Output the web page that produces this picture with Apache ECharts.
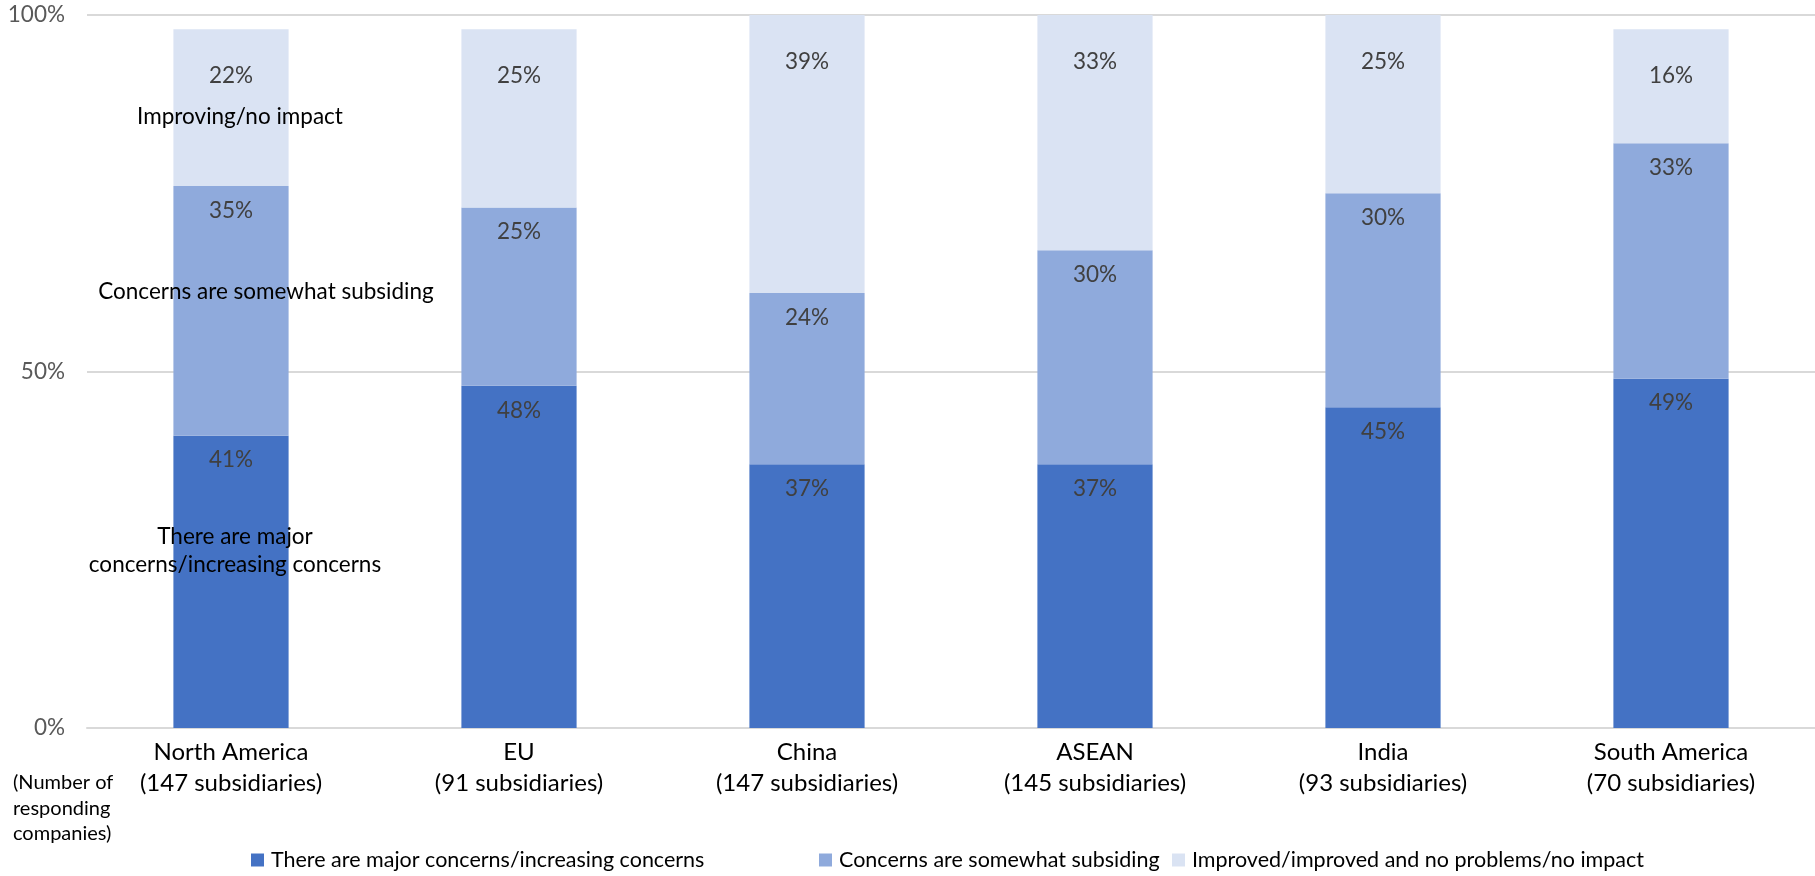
<!DOCTYPE html>
<html>
<head>
<meta charset="utf-8">
<script src="https://cdn.jsdelivr.net/npm/echarts@6/dist/echarts.min.js"></script>
<style>
  html, body { margin: 0; padding: 0; background: #fff; }
  #chart { width: 1815px; height: 876px; }
</style>
</head>
<body>
<div id="chart"></div>
<script>
// Regions and number of responding subsidiaries
const regions = ['North America', 'EU', 'China', 'ASEAN', 'India', 'South America'];
const respondents = [147, 91, 147, 145, 93, 70];

// Share of responses (%) per region
const majorConcerns = [41, 48, 37, 37, 45, 49];
const somewhatSubsiding = [35, 25, 24, 30, 30, 33];
const improvedNoImpact = [22, 25, 39, 33, 25, 16];

const seriesNames = [
  'There are major concerns/increasing concerns',
  'Concerns are somewhat subsiding',
  'Improved/improved and no problems/no impact'
];
const yTicks = [0, 50, 100];

const FONT = 'Lato, "Open Sans", sans-serif';
const colors = ['#4472C4', '#8FAADC', '#DAE3F3'];

const categoryLabels = regions.map((r, i) => r + '\n(' + respondents[i] + ' subsidiaries)');

const chart = echarts.init(document.getElementById('chart'), null, { renderer: 'canvas' });

function barSeries(name, data, color, labelDistance) {
  return {
    name: name,
    type: 'bar',
    stack: 'total',
    data: data,
    barWidth: '40%',
    itemStyle: { color: color },
    emphasis: { disabled: true },
    label: {
      show: true,
      position: 'insideTop',
      distance: labelDistance,
      formatter: p => p.value + '%',
      color: '#404040',
      fontFamily: FONT,
      fontSize: 22.5
    }
  };
}

function legendAt(left, name) {
  return {
    left: left,
    top: 849,
    data: [name],
    icon: 'rect',
    itemWidth: 13,
    itemHeight: 13,
    itemGap: 0,
    padding: 0,
    selectedMode: false,
    textStyle: { fontFamily: FONT, fontSize: 21.5, color: '#000', padding: [0, 0, 0, 2] }
  };
}

chart.setOption({
  animation: false,
  backgroundColor: '#fff',
  grid: { left: 87, right: 0, top: 15, bottom: 148, containLabel: false },
  legend: [
    legendAt(251, seriesNames[0]),
    legendAt(819, seriesNames[1]),
    legendAt(1172, seriesNames[2])
  ],
  xAxis: {
    type: 'category',
    data: categoryLabels,
    axisLine: { show: true, lineStyle: { color: '#D9D9D9', width: 2 } },
    axisTick: { show: false },
    axisLabel: {
      color: '#000',
      fontFamily: FONT,
      fontSize: 24,
      lineHeight: 31,
      margin: 9,
      interval: 0
    }
  },
  yAxis: {
    type: 'value',
    min: yTicks[0],
    max: yTicks[yTicks.length - 1],
    interval: yTicks[1] - yTicks[0],
    axisLine: { show: false },
    axisTick: { show: false },
    splitLine: { lineStyle: { color: '#D9D9D9', width: 2 } },
    axisLabel: {
      formatter: v => v + '%',
      color: '#595959',
      fontFamily: FONT,
      fontSize: 22.5,
      margin: 22
    }
  },
  series: [
    barSeries(seriesNames[0], majorConcerns, colors[0], 13),
    barSeries(seriesNames[1], somewhatSubsiding, colors[1], 13),
    barSeries(seriesNames[2], improvedNoImpact, colors[2], 35)
  ],
  graphic: [
    {
      type: 'text', left: 13, top: 770, z: 10,
      style: {
        text: '(Number of\nresponding\ncompanies)',
        fill: '#000', font: '20px ' + FONT, lineHeight: 25.5
      }
    },
    {
      type: 'text', x: 240, y: 117, z: 10,
      style: {
        text: 'Improving/no impact',
        fill: '#000', font: '22.5px ' + FONT, align: 'center', verticalAlign: 'middle'
      }
    },
    {
      type: 'text', x: 266, y: 292, z: 10,
      style: {
        text: 'Concerns are somewhat subsiding',
        fill: '#000', font: '22.5px ' + FONT, align: 'center', verticalAlign: 'middle'
      }
    },
    {
      type: 'text', x: 235, y: 551, z: 10,
      style: {
        text: 'There are major\nconcerns/increasing concerns',
        fill: '#000', font: '22.5px ' + FONT, align: 'center', verticalAlign: 'middle',
        lineHeight: 28
      }
    }
  ]
});
</script>
</body>
</html>
